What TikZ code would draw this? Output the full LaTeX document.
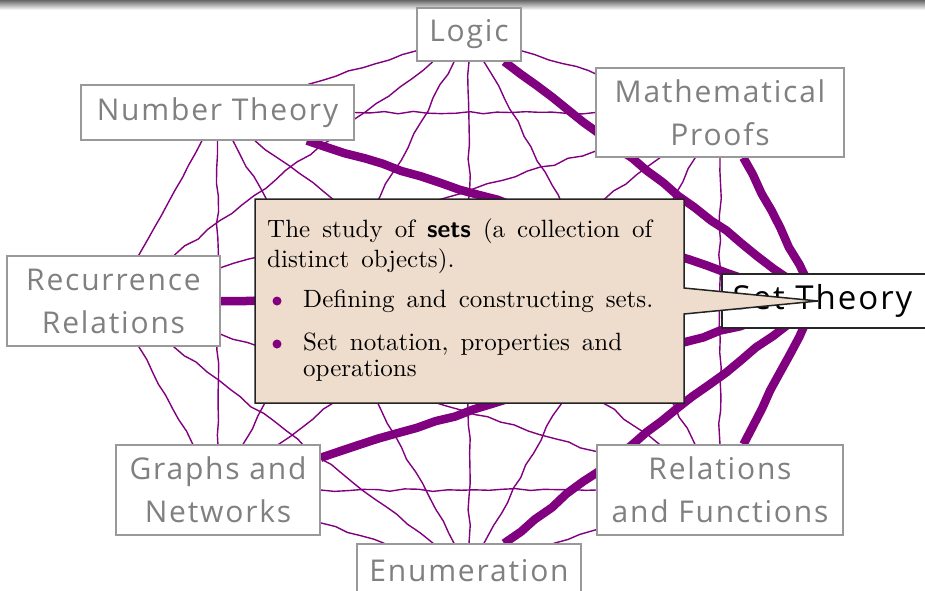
\documentclass[tikz,border=0pt]{standalone}
\usepackage{fontspec}
\newfontfamily\handfont[LetterSpace=6]{Open Sans}
\newfontfamily\callfont[Extension=.otf, BoldFont=lmroman10-bold]{lmroman10-regular}
\newfontfamily\callbold[Extension=.otf]{lmsans10-bold}
\usetikzlibrary{decorations.pathmorphing,shapes.callouts}
\pgfdeclarelayer{background}
\pgfsetlayers{background,main}
\definecolor{mypurple}{RGB}{128,0,128}
\definecolor{nodegray}{RGB}{153,153,153}
\definecolor{textgray}{RGB}{128,128,128}
\definecolor{calloutfill}{RGB}{238,221,204}
\definecolor{calloutborder}{RGB}{35,35,35}
\tikzset{
  topic/.style={draw=nodegray, line width=1.3pt, fill=white, text=textgray,
    font=\handfont\fontsize{30}{43}\selectfont, align=center, inner sep=0pt},
  thinlink/.style={draw=mypurple, line width=1.4pt, line join=round, decorate,
    decoration={random steps, segment length=14pt, amplitude=1.4pt}},
  thicklink/.style={draw=mypurple, line width=8.5pt, line join=round, decorate,
    decoration={random steps, segment length=20pt, amplitude=1.2pt}},
  callbox/.style={rectangle callout, draw=calloutborder, fill=calloutfill,
    line width=1.5pt, inner sep=0pt},
}
\begin{document}
\begin{tikzpicture}[x=1pt,y=-1pt]
\useasboundingbox (0,0) rectangle (925,590);
\shade[top color=black!60, bottom color=white] (0,0) rectangle (925,10);

\node[topic, minimum width=104pt, minimum height=53pt] (L) at (469,34.5) {Logic};
\node[topic, minimum width=248pt, minimum height=89pt] (MP) at (720,112.5) {Mathematical\\Proofs};
\node[topic, minimum width=273pt, minimum height=55pt] (NT) at (217.5,112.5) {Number Theory};
\node[topic, minimum width=213pt, minimum height=90pt] (RR) at (113.5,301) {Recurrence\\Relations};
\node[topic, minimum width=204pt, minimum height=90pt] (GN) at (218,490) {Graphs and\\Networks};
\node[topic, minimum width=224pt, minimum height=53pt] (EN) at (469,570.5) {Enumeration};
\node[topic, minimum width=246pt, minimum height=90pt] (RF) at (720,490) {Relations\\and Functions};
\node[topic, draw=black!85, text=black, font=\handfont\fontsize{33}{43}\selectfont,
  minimum width=213pt, minimum height=54pt] (ST) at (828.5,301) {Set Theory\hspace*{12pt}};

\begin{pgfonlayer}{background}
\pgfmathsetseed{7}
\foreach \a/\b in {L/MP, L/NT, L/RR, L/GN, L/EN, L/RF, MP/NT, MP/RR, MP/GN, MP/EN, MP/RF,
  NT/RR, NT/GN, NT/EN, NT/RF, RR/GN, RR/EN, RR/RF, GN/EN, GN/RF, EN/RF}
  \draw[thinlink] (\a) -- (\b);
\foreach \a in {L,MP,NT,RR,GN,EN,RF}
  \draw[thicklink] (\a) -- ([xshift=-11pt]ST.center);
\end{pgfonlayer}

\node[callbox, minimum width=429pt, minimum height=204pt,
  callout absolute pointer={(818,301)}, callout pointer width=26pt] (callout) at (469.5,301) {};
\node[anchor=north west, inner sep=0pt, align=left,
  font={\callfont\fontsize{25}{26}\selectfont\spaceskip=12pt plus 6pt minus 3pt}] (calltext) at (267,219)
  {\makebox[385pt][s]{The study of {\callbold sets} (a collection of}\\[4pt]
   distinct objects).\\[14pt]
   \hspace*{36pt}Defining and constructing sets.\\[17pt]
   \hspace*{36pt}Set notation, properties and\\
   \hspace*{36pt}operations};
\fill[mypurple] (277,301) circle (4.5pt);
\fill[mypurple] (277,344) circle (4.5pt);
\end{tikzpicture}
\end{document}
